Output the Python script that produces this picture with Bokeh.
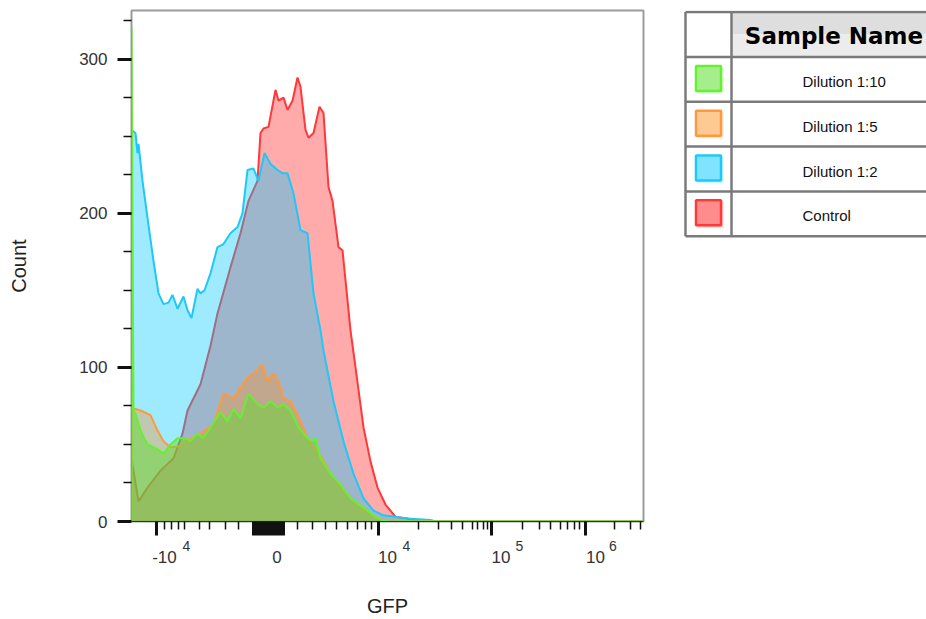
from bokeh.plotting import figure
from bokeh.models import Range1d, FixedTicker, LinearAxis, CustomJSTickFormatter
from bokeh.layouts import row
from bokeh.embed import file_html
from bokeh.resources import INLINE
from bokeh.core.properties import value

# GFP histograms, x in biexponential display channels (0-1024), y = event count
control_ch = [0, 0, 4, 14, 32, 58, 84, 102, 112, 138, 158, 172, 198, 218, 234, 252, 258, 264, 274, 288,
              294, 304, 312, 322, 332, 338, 348, 354, 364, 376, 384, 394, 402, 414, 422, 438, 448, 464,
              478, 492, 508, 528, 552, 578, 1024]
control_count = [0, 41, 33, 13, 22, 33, 41, 57, 72, 89, 114, 135, 165, 187, 208, 221, 252, 255, 256, 280,
                 273, 275, 267, 273, 288, 282, 254, 249, 252, 269, 265, 217, 208, 178, 176, 124, 100, 61,
                 39, 22, 11, 3, 2, 0, 0]

dil2_ch = [0, 0, 8, 12, 14, 22, 32, 44, 54, 64, 74, 82, 92, 104, 112, 120, 132, 138, 146, 158, 172, 184,
           198, 212, 222, 232, 244, 254, 266, 278, 292, 302, 312, 324, 338, 352, 364, 378, 384, 404, 424,
           444, 464, 484, 504, 552, 598, 608, 1024]
dil2_count = [0, 254, 252, 239, 245, 221, 197, 169, 148, 141, 142, 147, 138, 146, 137, 132, 151, 148, 150,
              161, 178, 180, 187, 191, 200, 228, 229, 221, 239, 232, 228, 226, 226, 213, 189, 187, 148, 124,
              111, 78, 52, 31, 15, 7, 4, 2, 1, 0, 0]

dil5_ch = [0, 0, 8, 18, 38, 52, 64, 78, 98, 108, 132, 138, 164, 184, 204, 218, 232, 244, 262, 272, 284,
           294, 304, 318, 338, 352, 378, 398, 418, 438, 464, 492, 508, 1024]
dil5_count = [0, 73, 73, 72, 69, 59, 52, 48, 49, 52, 56, 57, 63, 83, 80, 87, 93, 96, 102, 91, 96,
              91, 80, 78, 65, 54, 43, 31, 23, 15, 8, 2, 0, 0]

dil10_ch = [0, 0, 4, 8, 18, 32, 52, 64, 78, 92, 108, 118, 132, 144, 158, 178, 192, 204, 218, 234, 252,
            264, 278, 292, 304, 318, 334, 352, 364, 368, 378, 398, 418, 438, 464, 492, 512, 1024]
dil10_count = [0, 320, 72, 70, 59, 50, 47, 44, 50, 54, 54, 52, 57, 54, 61, 71, 65, 73, 67, 83, 76,
               74, 78, 74, 76, 72, 61, 54, 52, 54, 41, 31, 24, 15, 9, 2, 0, 0]

series_names = ["Control", "Dilution 1:2", "Dilution 1:5", "Dilution 1:10"]
legend_order = ["Dilution 1:10", "Dilution 1:5", "Dilution 1:2", "Control"]

# axis ticks in display channels, with their decade labels (base and exponent)
x_major_ch = [50, 274, 493, 719, 908]
x_major_base = ["-10", "0", "10", "10", "10"]
x_major_exp = ["4", "", "4", "5", "6"]
x_base_shift_ch = [16, 17, 19, 20, 20]      # labels sit just right of their tick
x_exp_shift_ch = [60, 0, 57, 57, 55]
x_zero_cluster_ch = [244, 249, 254, 259, 264, 269, 279, 284, 289, 294, 299, 304]
x_minor_ch = [65, 79, 93, 106, 135, 156, 187, 213, 331, 361, 388, 410, 431, 451, 468, 479,
              573, 613, 639, 661, 681, 691, 703, 711, 781, 815, 838, 857, 871, 885, 895,
              965, 997, 1018]
y_major = [0, 100, 200, 300]
y_minor = [25, 50, 75, 125, 150, 175, 225, 250, 275, 325]

# styling
line_colors = {"Control": "#ff3838", "Dilution 1:2": "#1ec8f8",
               "Dilution 1:5": "#ff9a3c", "Dilution 1:10": "#66f032"}
fill_colors = {"Control": "#ff0000", "Dilution 1:2": "#00c8ff",
               "Dilution 1:5": "#ff8c1a", "Dilution 1:10": "#55e022"}
fill_alphas = {"Control": 0.33, "Dilution 1:2": 0.38, "Dilution 1:5": 0.35, "Dilution 1:10": 0.42}
data = {"Control": (control_ch, control_count), "Dilution 1:2": (dil2_ch, dil2_count),
        "Dilution 1:5": (dil5_ch, dil5_count), "Dilution 1:10": (dil10_ch, dil10_count)}

FONT = "Liberation Sans"
BORDER_TOP, BORDER_BOTTOM = 10, 98

p = figure(width=660, height=619, x_range=Range1d(0, 1024), y_range=Range1d(0, 331.5),
           output_backend="svg", toolbar_location=None,
           min_border_left=131, min_border_right=17,
           min_border_top=BORDER_TOP, min_border_bottom=BORDER_BOTTOM)
p.grid.visible = False
p.outline_line_color = "#9c9c9c"
p.outline_line_width = 2
p.background_fill_color = "white"

for name in series_names:
    xs, ys = data[name]
    p.varea(x=xs, y1=[0] * len(xs), y2=ys, fill_color=fill_colors[name], fill_alpha=fill_alphas[name])
    p.line(x=xs, y=ys, line_color=line_colors[name], line_width=2)


def label_axis(positions, texts, size, standoff):
    """An axis without line or ticks that only carries text labels."""
    ax = LinearAxis(ticker=FixedTicker(ticks=positions, minor_ticks=[]),
                    major_label_overrides=dict(zip(positions, texts)))
    ax.axis_line_color = None
    ax.major_tick_line_color = None
    ax.minor_tick_line_color = None
    ax.major_tick_in = ax.major_tick_out = 0
    ax.minor_tick_in = ax.minor_tick_out = 0
    ax.major_label_text_font = FONT
    ax.major_label_text_font_size = size
    ax.major_label_text_color = "#333333"
    ax.major_label_standoff = standoff
    return ax


# x axis: tick marks only
xa = p.xaxis[0]
xa.ticker = FixedTicker(ticks=x_major_ch + x_zero_cluster_ch, minor_ticks=x_minor_ch)
xa.formatter = CustomJSTickFormatter(code="return ''")
xa.axis_line_color = "#333333"
xa.major_tick_line_color = "#111111"
xa.major_tick_line_width = 3
xa.major_tick_in = 0
xa.major_tick_out = 14
xa.minor_tick_line_color = "#111111"
xa.minor_tick_line_width = 1.5
xa.minor_tick_in = 0
xa.minor_tick_out = 8
xa.major_label_standoff = 0

# decade exponents, then the bases beneath them (raised back up to share a line)
exp_pos = [c + s for c, s, e in zip(x_major_ch, x_exp_shift_ch, x_major_exp) if e]
exp_txt = [e for e in x_major_exp if e]
p.add_layout(label_axis(exp_pos, exp_txt, "14px", 5), "below")

base_pos = [c + s for c, s in zip(x_major_ch, x_base_shift_ch)]
xb = label_axis(base_pos, x_major_base, "17px", -3)
xb.axis_label = "GFP"
xb.axis_label_text_font = FONT
xb.axis_label_text_font_size = "20px"
xb.axis_label_text_font_style = "normal"
xb.axis_label_text_color = "#222222"
xb.axis_label_standoff = 29
p.add_layout(xb, "below")

ya = p.yaxis[0]
ya.ticker = FixedTicker(ticks=y_major, minor_ticks=y_minor)
ya.axis_line_color = "#999999"
ya.major_tick_line_color = "#111111"
ya.major_tick_line_width = 3
ya.major_tick_in = 0
ya.major_tick_out = 14
ya.minor_tick_line_color = "#111111"
ya.minor_tick_line_width = 1.5
ya.minor_tick_in = 0
ya.minor_tick_out = 8
ya.major_label_text_font = FONT
ya.major_label_text_font_size = "17px"
ya.major_label_text_color = "#333333"
ya.major_label_standoff = 10
ya.axis_label = "Count"
ya.axis_label_text_font = FONT
ya.axis_label_text_font_size = "20px"
ya.axis_label_text_font_style = "normal"
ya.axis_label_text_color = "#222222"
ya.axis_label_standoff = 46

# sample table with colour keys; y measured in page pixels from the top
leg = figure(width=266, height=619, x_range=Range1d(0, 266),
             y_range=Range1d(619 - BORDER_BOTTOM, BORDER_TOP),
             output_backend="svg", toolbar_location=None,
             min_border_left=0, min_border_right=0,
             min_border_top=BORDER_TOP, min_border_bottom=BORDER_BOTTOM,
             x_axis_location=None, y_axis_location=None)
leg.grid.visible = False
leg.outline_line_color = None

t_left, t_div, t_right, t_top = 25, 71, 266, 11.5
header_h, row_h = 45, 44.8
n_rows = len(legend_order)
row_lines = [t_top, t_top + header_h] + [t_top + header_h + (i + 1) * row_h for i in range(n_rows)]
t_bottom = row_lines[-1]

leg.quad(left=[t_div], right=[t_right], top=[t_top], bottom=[t_top + header_h / 2],
         fill_color="#dedede", line_color=None)
leg.quad(left=[t_div], right=[t_right], top=[t_top + header_h / 2], bottom=[t_top + header_h],
         fill_color="#ececec", line_color=None)
leg.segment(x0=[t_left] * len(row_lines), x1=[t_right] * len(row_lines), y0=row_lines, y1=row_lines,
            line_color="#7a7a7a", line_width=2.5)
leg.segment(x0=[t_left, t_div], x1=[t_left, t_div], y0=[t_top, t_top], y1=[t_bottom, t_bottom],
            line_color="#7a7a7a", line_width=2.5)

centers = [t_top + header_h + (i + 0.5) * row_h for i in range(n_rows)]
sw_x = (t_left + t_div) / 2
leg.rect(x=[sw_x + 2] * n_rows, y=[c + 1 for c in centers], width=26, height=26,
         fill_color=[fill_colors[n] for n in legend_order], fill_alpha=0.18, line_color=None)
leg.rect(x=[sw_x] * n_rows, y=[c - 1 for c in centers], width=25, height=25,
         fill_color=[fill_colors[n] for n in legend_order],
         fill_alpha=[fill_alphas[n] for n in legend_order],
         line_color=[line_colors[n] for n in legend_order], line_width=2.5)
leg.text(x=[t_div + 71] * n_rows, y=[c + 2 for c in centers], text=legend_order,
         text_font=value(FONT), text_font_size=value("15px"), text_color="#111111",
         text_align="left", text_baseline="middle")
leg.text(x=[173.5], y=[t_top + header_h / 2 + 1], text=["Sample Name"],
         text_font=value("DejaVu Sans"), text_font_size=value("23px"), text_font_style="bold",
         text_color="#000000", text_align="center", text_baseline="middle")

layout = row(p, leg)
open("out.html", "w").write(file_html(layout, INLINE, title="GFP histogram overlay"))
